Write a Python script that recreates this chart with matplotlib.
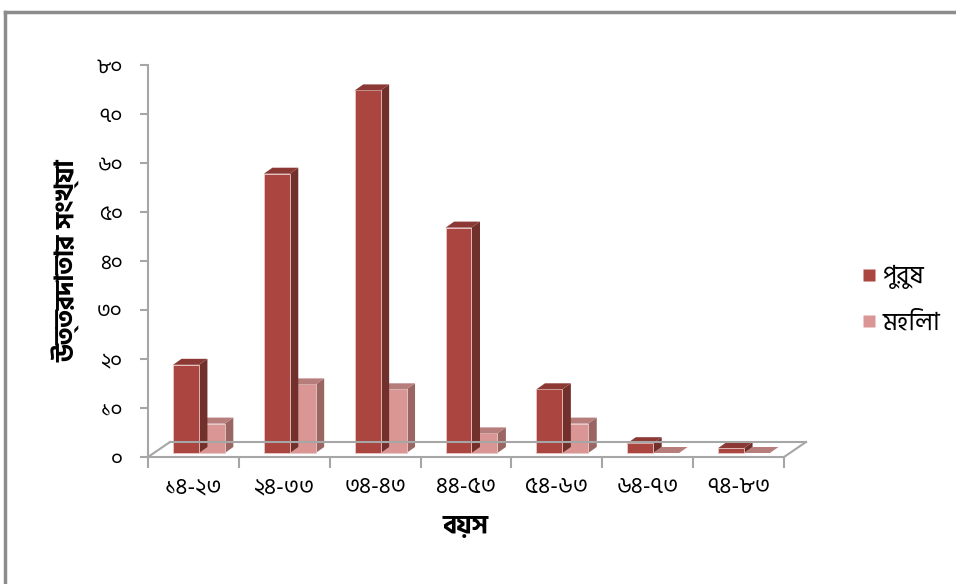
import matplotlib
matplotlib.use("Agg")
import matplotlib.pyplot as plt
from matplotlib.patches import Polygon
from matplotlib.lines import Line2D
from matplotlib.transforms import ScaledTranslation

plt.rcParams["font.family"] = ["Hind Siliguri", "Noto Sans Bengali", "DejaVu Sans"]

# বয়সভিত্তিক উত্তরদাতার সংখ্যা
age_groups = ["১৪-২৩", "২৪-৩৩", "৩৪-৪৩", "৪৪-৫৩", "৫৪-৬৩", "৬৪-৭৩", "৭৪-৮৩"]
male = [18, 57, 74, 46, 13, 2, 1]
female = [6, 14, 13, 4, 6, 0, 0]
series_names = ["পুরুষ", "মহিলা"]
y_ticks = [0, 10, 20, 30, 40, 50, 60, 70, 80]
y_tick_labels = ["০", "১০", "২০", "৩০", "৪০", "৫০", "৬০", "৭০", "৮০"]

# front, side, top shades for each series
male_colors = ("#AA4540", "#72302C", "#8C3935")
female_colors = ("#D99694", "#9A6664", "#B67D7B")

fig = plt.figure(figsize=(9.56, 5.84), dpi=100)
ax = fig.add_axes([148 / 956, 127 / 584, 636 / 956, 392 / 584])
ax.set_xlim(0, len(age_groups))
ax.set_ylim(0, 80)

dpi = fig.dpi


def shifted(dx, dy):
    # offset in pixels on top of data coords
    return ax.transData + ScaledTranslation(dx / dpi, dy / dpi, fig.dpi_scale_trans)


# floor depth and bar depth in pixels
floor_dx, floor_dy = 22, 15
bar_dx, bar_dy = 8.5, 6
bar_off = shifted(5.5, 4)
bar_w = 0.285
gray = "#A6A6A6"

# floor outline
n = len(age_groups)
back = shifted(floor_dx, floor_dy)
ax.add_line(Line2D([0, n], [0, 0], transform=back, color=gray, lw=1.5, clip_on=False))
for x in (0, n):
    p0 = ax.transData.transform((x, 0))
    p1 = back.transform((x, 0))
    fig.add_artist(Line2D([p0[0] / fig.bbox.width, p1[0] / fig.bbox.width],
                          [p0[1] / fig.bbox.height, p1[1] / fig.bbox.height],
                          color=gray, lw=1.5))


def draw_bar(x0, h, colors):
    front, side, top = colors
    x1 = x0 + bar_w
    # convert to pixels after the front offset
    fl, fr, tr, tl = bar_off.transform([(x0, 0), (x1, 0), (x1, h), (x0, h)])
    tr_b = (tr[0] + bar_dx, tr[1] + bar_dy)
    tl_b = (tl[0] + bar_dx, tl[1] + bar_dy)
    fr_b = (fr[0] + bar_dx, fr[1] + bar_dy)
    if h > 0:
        ax.add_patch(Polygon([fr, fr_b, tr_b, tr], closed=True, transform=None,
                             facecolor=side, edgecolor="none", clip_on=False))
        ax.add_patch(Polygon([fl, fr, tr, tl], closed=True, transform=None,
                             facecolor=front, edgecolor="#E9C9C7", lw=0.6, clip_on=False))
    ax.add_patch(Polygon([tl, tr, tr_b, tl_b], closed=True, transform=None,
                         facecolor=top, edgecolor="none", clip_on=False))


for i in range(n):
    left = i + 0.5 - bar_w
    draw_bar(left + bar_w, female[i], female_colors)
    draw_bar(left, male[i], male_colors)

# axes styling
for s in ("top", "right"):
    ax.spines[s].set_visible(False)
ax.spines["left"].set_color(gray)
ax.spines["left"].set_linewidth(1.5)
ax.spines["bottom"].set_color(gray)
ax.spines["bottom"].set_linewidth(1.5)
ax.set_yticks(y_ticks)
ax.set_yticklabels(y_tick_labels, fontsize=15)
ax.set_xticks(range(n + 1))
ax.set_xticklabels([])
ax.set_xticks([i + 0.5 for i in range(n)], minor=True)
ax.set_xticklabels(age_groups, minor=True, fontsize=16.5)
ax.tick_params(axis="y", length=6, width=1.5, color=gray, pad=12)
ax.tick_params(axis="x", which="major", length=8, width=1.5, color=gray)
ax.tick_params(axis="x", which="minor", length=0, pad=14)
ax.patch.set_alpha(0)

ax.set_ylabel("উত্তরদাতার সংখ্যা", fontsize=19, fontweight="bold", labelpad=12)
ax.set_xlabel("বয়স", fontsize=19, fontweight="bold", labelpad=12)

# legend
handles = [
    Line2D([], [], marker="s", linestyle="none", markersize=9,
           markerfacecolor=male_colors[0], markeredgecolor="none"),
    Line2D([], [], marker="s", linestyle="none", markersize=9,
           markerfacecolor=female_colors[0], markeredgecolor="none"),
]
fig.legend(handles, series_names, loc="center left", bbox_to_anchor=(858 / 956, 1 - 300 / 584),
           frameon=False, fontsize=18, handletextpad=0.1, handlelength=0.9,
           labelspacing=0.9, borderpad=0, borderaxespad=0)

# outer frame
fig.add_artist(Line2D([5 / 956, 1], [1 - 12 / 584, 1 - 12 / 584], color="#8C8C8C", lw=2.5))
fig.add_artist(Line2D([5 / 956, 5 / 956], [0, 1 - 12 / 584], color="#8C8C8C", lw=2.5))

fig.savefig("out.png", dpi=100)
